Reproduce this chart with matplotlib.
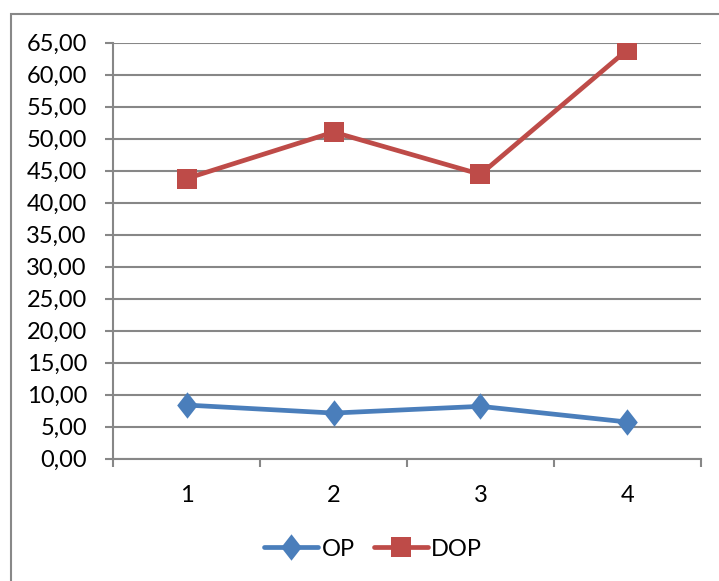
import matplotlib
matplotlib.use("Agg")
import matplotlib.pyplot as plt
from matplotlib.patches import Rectangle
from matplotlib.path import Path
import numpy as np

categories = ["1", "2", "3", "4"]
op_values = [8.35, 7.10, 8.15, 5.70]
dop_values = [43.75, 51.00, 44.40, 63.85]
y_ticks = [0, 5, 10, 15, 20, 25, 30, 35, 40, 45, 50, 55, 60, 65]

W, H = 719, 581
fig = plt.figure(figsize=(W / 100, H / 100), dpi=100)
plt.rcParams['font.family'] = ['Lato', 'DejaVu Sans']

left, right, top, bottom = 113.3, 700.7, 42.5, 458.5
ax = fig.add_axes([left / W, 1 - bottom / H, (right - left) / W, (bottom - top) / H])

grid_c = '#878787'
blue = '#4A7EBB'
red = '#BE4B48'

diamond = Path([(0, 1), (0.78, 0), (0, -1), (-0.78, 0), (0, 1)],
               [Path.MOVETO, Path.LINETO, Path.LINETO, Path.LINETO, Path.CLOSEPOLY])

x = np.arange(1, len(categories) + 1)
ax.plot(x, op_values, color=blue, lw=3.4, marker=diamond, ms=19,
        mec=blue, mfc=blue, mew=0, label='OP', zorder=3, solid_capstyle='round')
ax.plot(x, dop_values, color=red, lw=3.4, marker='s', ms=14.5,
        mec=red, mfc=red, mew=0, label='DOP', zorder=3, solid_capstyle='round')

ax.set_xlim(0.5, len(categories) + 0.5)
ax.set_ylim(0, 65)
ax.set_yticks(y_ticks)
ax.set_yticklabels([f"{v:.2f}".replace('.', ',') for v in y_ticks])
ax.set_xticks(np.arange(0.5, len(categories) + 1, 1.0))
ax.set_xticklabels([])
ax.set_xticks(x, minor=True)
ax.set_xticklabels(categories, minor=True)

ax.yaxis.grid(True, color=grid_c, lw=1.5)
ax.set_axisbelow(True)
for s in ['top', 'right']:
    ax.spines[s].set_visible(False)
for s in ['left', 'bottom']:
    ax.spines[s].set_color(grid_c)
    ax.spines[s].set_linewidth(1.5)

ax.tick_params(axis='y', which='major', direction='out', length=6, width=1.5,
               color=grid_c, labelsize=17, pad=13, labelcolor='black')
ax.tick_params(axis='x', which='major', direction='out', length=6, width=1.5,
               color=grid_c)
ax.tick_params(axis='x', which='minor', length=0, labelsize=17, pad=19,
               labelcolor='black')

# outer chart border
fig.patches.append(Rectangle((11 / W, -0.05), 1.1, 1 - 14 / H + 0.05,
                             transform=fig.transFigure, fill=False,
                             edgecolor='#888888', lw=1.5, zorder=0))

leg = fig.legend(loc='center', bbox_to_anchor=(373 / W, 1 - 549 / H), ncol=2,
                 frameon=False, fontsize=17, handlelength=2.3, handletextpad=0.15,
                 columnspacing=0.8, borderpad=0)

fig.savefig('out.png', dpi=100)
